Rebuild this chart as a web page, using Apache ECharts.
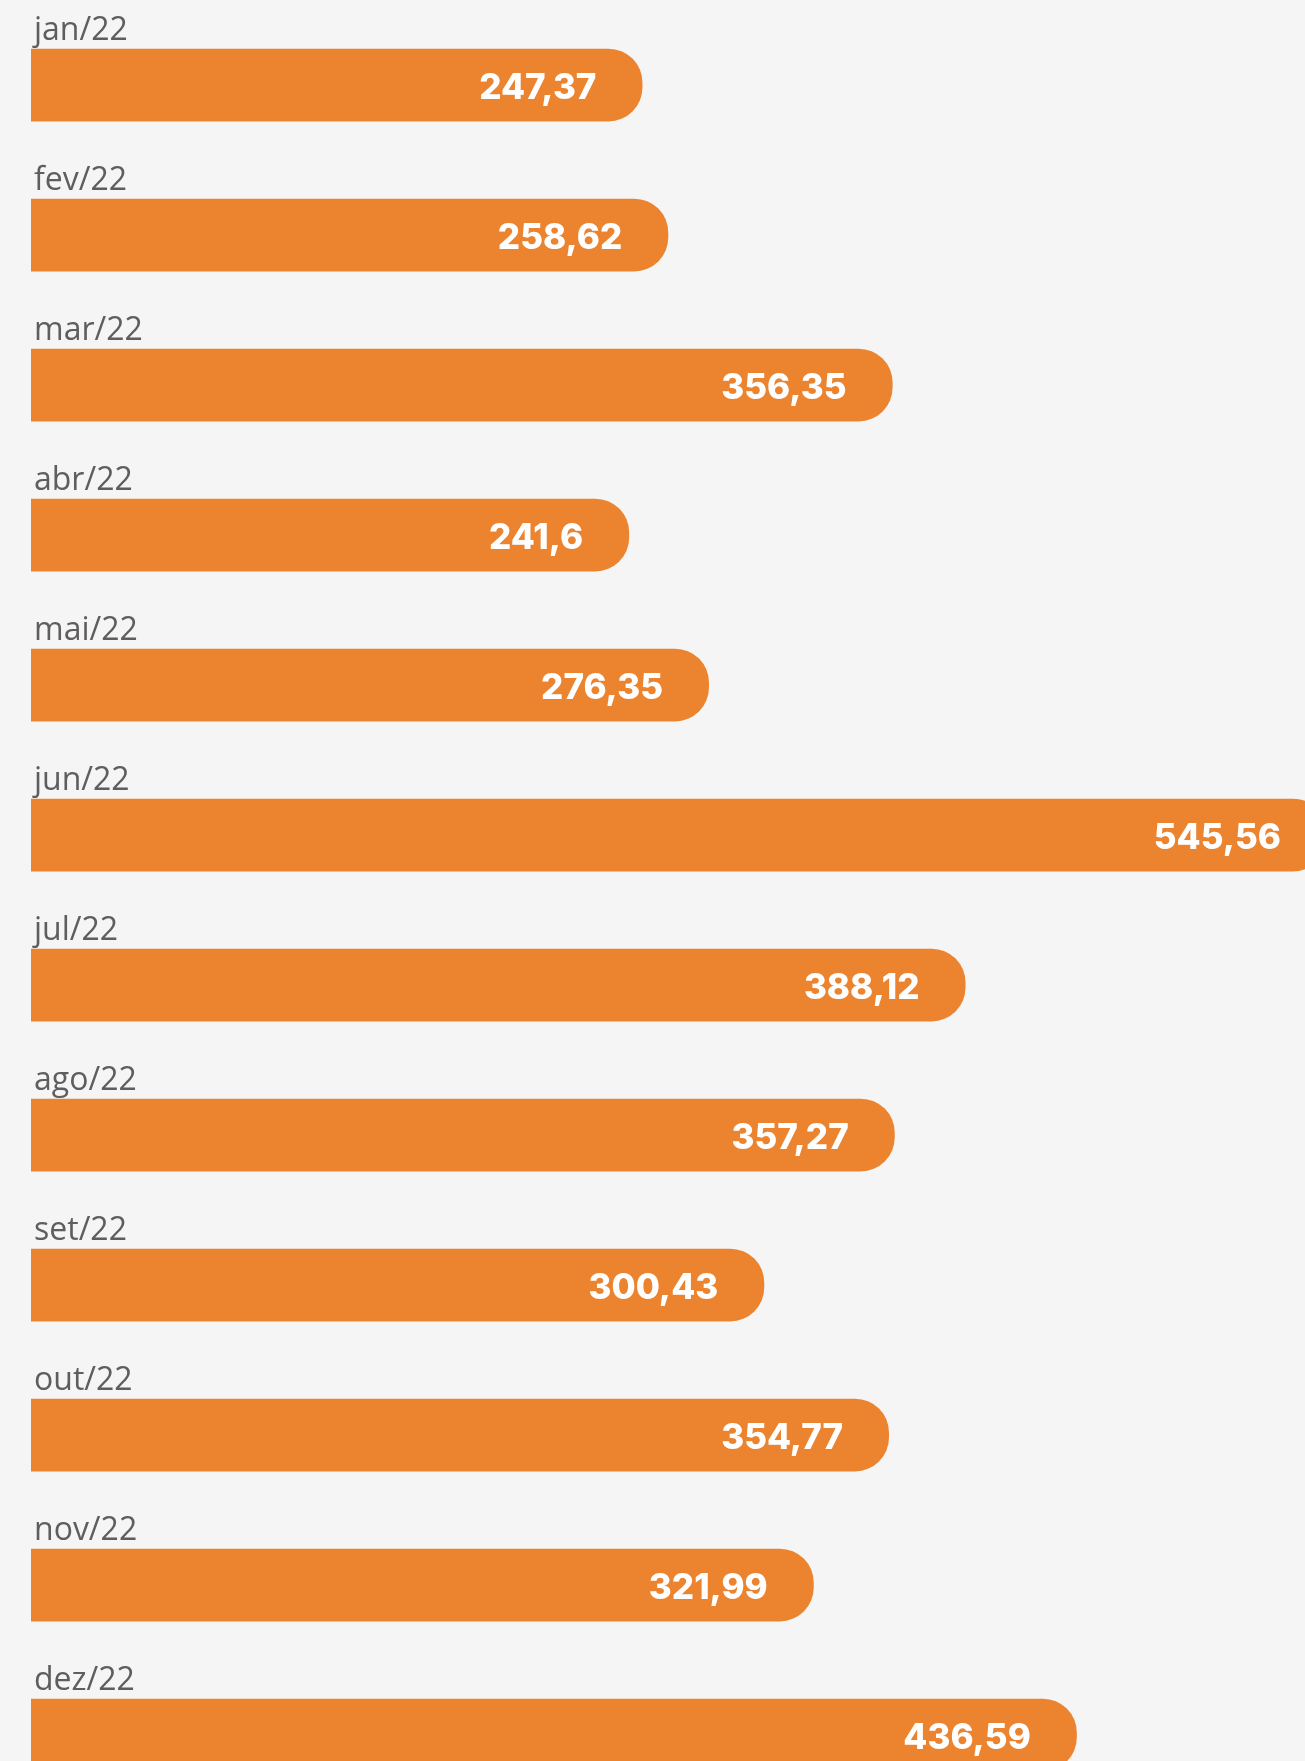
<!DOCTYPE html>
<html>
<head>
<meta charset="utf-8">
<script src="https://cdn.jsdelivr.net/npm/echarts@6/dist/echarts.min.js"></script>
<style>
  html, body { margin: 0; padding: 0; background: #f5f5f5; }
  #chart { width: 1305px; height: 1761px; }
</style>
</head>
<body>
<div id="chart"></div>
<script>
  // meses e valores
  const categories = ['jan/22', 'fev/22', 'mar/22', 'abr/22', 'mai/22', 'jun/22',
                      'jul/22', 'ago/22', 'set/22', 'out/22', 'nov/22', 'dez/22'];
  const values = [247.37, 258.62, 356.35, 241.6, 276.35, 545.56,
                  388.12, 357.27, 300.43, 354.77, 321.99, 436.59];

  const barColor = '#ec832e';
  const axisMin = -19;   // as barras começam um pouco antes do zero

  function fmt(v) {
    return String(v).replace('.', ',');
  }

  function renderBar(params, api) {
    let idx = api.value(1);
    let end = api.coord([api.value(0), idx]);
    let start = api.coord([axisMin, idx]);
    let band = api.size([0, 1])[1];
    let h = band * 0.485;
    let top = end[1] - h / 2;
    return {
      type: 'group',
      children: [
        {
          type: 'rect',
          shape: { x: start[0], y: top, width: end[0] - start[0], height: h, r: [0, 34, 34, 0] },
          style: { fill: barColor }
        },
        {
          type: 'text',
          style: {
            text: fmt(api.value(0)),
            x: end[0] - 46,
            y: end[1] + 3,
            align: 'right',
            verticalAlign: 'middle',
            fill: '#ffffff',
            fontSize: 35,
            fontWeight: 800,
            fontFamily: 'Inter'
          }
        },
        {
          type: 'text',
          style: {
            text: categories[idx],
            x: start[0] + 3,
            y: top - 2,
            align: 'left',
            verticalAlign: 'bottom',
            fill: '#5e5e5e',
            fontSize: 32,
            fontWeight: 400,
            fontFamily: 'Open Sans'
          }
        }
      ]
    };
  }

  let chart = echarts.init(document.getElementById('chart'));
  chart.setOption({
    backgroundColor: '#f5f5f5',
    animation: false,
    grid: {
      left: 31,
      right: 0,
      top: 85,
      bottom: 26
    },
    xAxis: {
      type: 'value',
      min: axisMin,
      max: 536,
      show: false
    },
    yAxis: {
      type: 'category',
      data: categories,
      inverse: true,
      boundaryGap: false,
      show: false
    },
    series: [{
      type: 'custom',
      renderItem: renderBar,
      clip: false,
      encode: { x: 0, y: 1 },
      data: values.map((v, i) => [v, i])
    }]
  });
</script>
</body>
</html>
